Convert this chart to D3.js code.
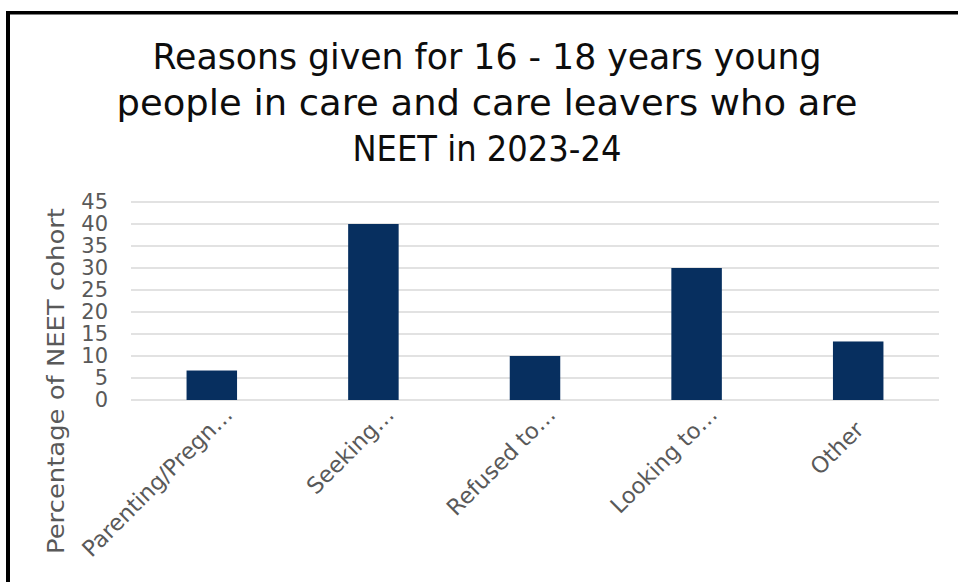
<!DOCTYPE html>
<html>
<head>
<meta charset="utf-8">
<script src="https://cdn.jsdelivr.net/npm/d3@7"></script>
<style>
  html, body { margin: 0; padding: 0; background: #fff; }
  svg { display: block; }
  text { font-family: "Century Gothic", "DejaVu Sans", sans-serif; }
</style>
</head>
<body>
<svg id="chart" width="958" height="582"></svg>
<script>
// Chart content
const titleLines = [
  "Reasons given for 16 - 18 years young",
  "people in care and care leavers who are",
  "NEET in 2023-24"
];
const categories = ["Parenting/Pregn\u2026", "Seeking\u2026", "Refused to\u2026", "Looking to\u2026", "Other   "];
const values = [6.7, 40, 10, 30, 13.3];
const yTicks = [0, 5, 10, 15, 20, 25, 30, 35, 40, 45];
const yTitle = "Percentage of NEET cohort";

const svg = d3.select("#chart");
const W = 958, H = 582;
const plot = { left: 131, right: 939, top: 202, bottom: 400 };
const fontStack = "\"Century Gothic\", \"DejaVu Sans\", sans-serif";

svg.append("rect").attr("width", W).attr("height", H).attr("fill", "#fff");

// Outer frame (top and left edges are inside the view)
svg.append("line").attr("x1", 8).attr("x2", W).attr("y1", 12.75).attr("y2", 12.75)
  .attr("stroke", "#000").attr("stroke-width", 3.5);
svg.append("line").attr("x1", 8).attr("x2", 8).attr("y1", 11).attr("y2", H)
  .attr("stroke", "#000").attr("stroke-width", 4);

// Title
const titleY = [69.3, 115, 160.5];
const titleW = [669, 741, 269];
svg.append("g").selectAll("text").data(titleLines).join("text")
  .attr("x", 487)
  .attr("y", (d, i) => titleY[i])
  .attr("text-anchor", "middle")
  .attr("font-size", 35)
  .attr("fill", "#0d0d0d")
  .attr("textLength", (d, i) => titleW[i])
  .attr("lengthAdjust", "spacingAndGlyphs")
  .text(d => d);

// Scales
const x = d3.scaleBand()
  .domain(categories)
  .range([plot.left, plot.right])
  .paddingInner(0.6875)
  .paddingOuter(0.34375);
const y = d3.scaleLinear().domain([0, 45]).range([plot.bottom, plot.top]);

// Gridlines
svg.append("g").selectAll("line").data(yTicks).join("line")
  .attr("x1", plot.left).attr("x2", plot.right)
  .attr("y1", d => y(d)).attr("y2", d => y(d))
  .attr("stroke", "#d9d9d9").attr("stroke-width", 1.5);

// Y axis labels
const yAxis = d3.axisLeft(y).tickValues(yTicks).tickSize(0).tickPadding(0).tickFormat(d3.format("d"));
const gy = svg.append("g").attr("transform", "translate(108,0)").call(yAxis);
gy.select(".domain").remove();
gy.selectAll("text")
  .attr("font-family", fontStack)
  .attr("font-size", 21).attr("fill", "#595959");

// Y axis title
svg.append("text")
  .attr("transform", "translate(64," + 381 + ") rotate(-90)")
  .attr("text-anchor", "middle")
  .attr("font-size", 23)
  .attr("fill", "#595959")
  .attr("textLength", 346)
  .attr("lengthAdjust", "spacingAndGlyphs")
  .text(yTitle);

// Bars
svg.append("g").selectAll("rect").data(values).join("rect")
  .attr("x", (d, i) => x(categories[i]))
  .attr("width", x.bandwidth())
  .attr("y", d => y(d))
  .attr("height", d => y(0) - y(d))
  .attr("fill", "#072f5f");

// Category labels, rotated
const xAxis = d3.axisBottom(x).tickSize(0).tickPadding(0);
const gx = svg.append("g").attr("transform", "translate(0," + plot.bottom + ")").call(xAxis);
gx.select(".domain").remove();
gx.selectAll(".tick text")
  .attr("font-family", fontStack)
  .attr("font-size", 22.5)
  .attr("fill", "#595959")
  .attr("text-anchor", "end")
  .attr("dy", null)
  .attr("y", 0)
  .attr("transform", "translate(22,16) rotate(-45)")
  .style("white-space", "pre");
</script>
</body>
</html>
